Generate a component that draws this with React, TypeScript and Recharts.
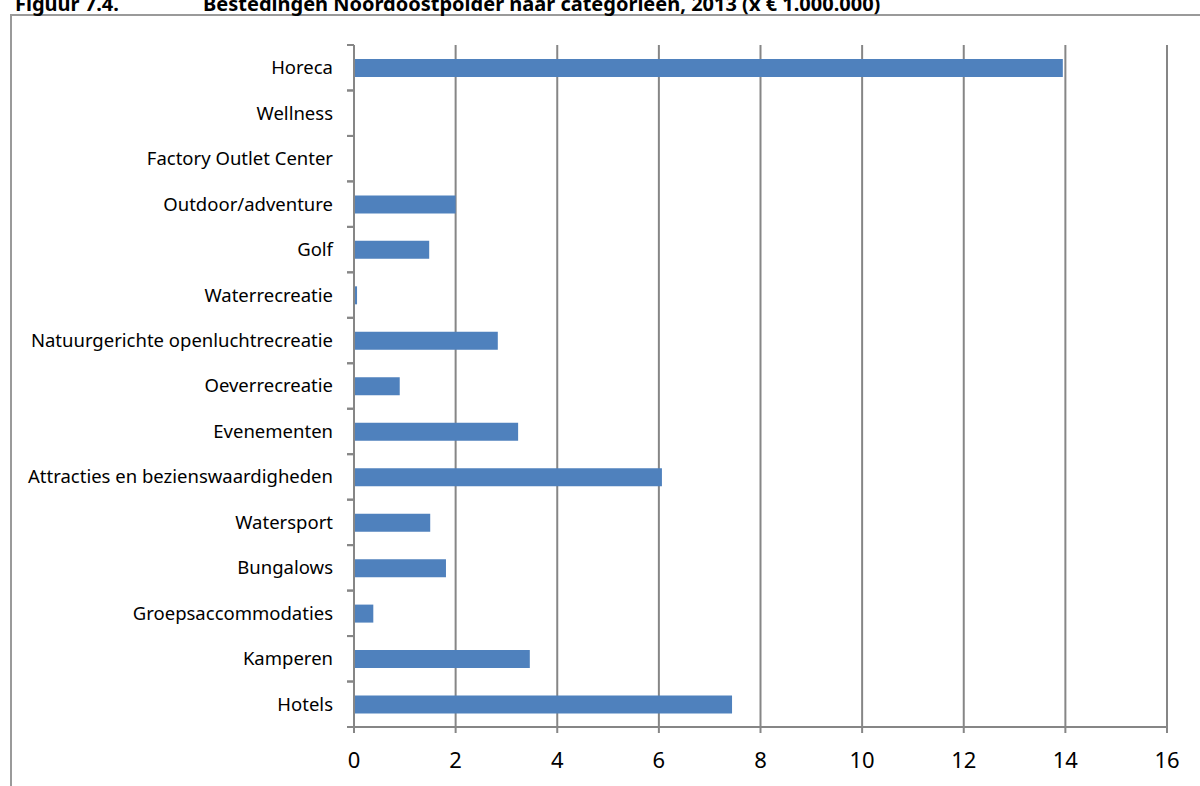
import React from "react";
import { Bar, BarChart, CartesianGrid, XAxis, YAxis } from "recharts";

// Bestedingen Noordoostpolder naar categorieën, 2013 (x € 1.000.000)
const categories = [
  "Horeca",
  "Wellness",
  "Factory Outlet Center",
  "Outdoor/adventure",
  "Golf",
  "Waterrecreatie",
  "Natuurgerichte openluchtrecreatie",
  "Oeverrecreatie ",
  "Evenementen",
  "Attracties en bezienswaardigheden",
  "Watersport",
  "Bungalows",
  "Groepsaccommodaties",
  "Kamperen",
  "Hotels",
];
const spending = [13.95, 0, 0, 2.0, 1.48, 0.06, 2.83, 0.9, 3.23, 6.06, 1.5, 1.81, 0.38, 3.46, 7.44];
const xTicks = [0, 2, 4, 6, 8, 10, 12, 14, 16];

const data = categories.map((name, i) => ({ name, value: spending[i] }));

const W = 1200;
const H = 786;
const PLOT_LEFT = 354;
const PLOT_TOP = 45;
const PLOT_BOTTOM = 727;
const HALF_BAND = (PLOT_BOTTOM - PLOT_TOP) / categories.length / 2;
const GRID = "#868686";
const FONT = "'Noto Sans', sans-serif";

function CategoryTick(props: any) {
  const { y, payload } = props;
  return (
    <g>
      <line x1={PLOT_LEFT - 7} x2={PLOT_LEFT} y1={y - HALF_BAND} y2={y - HALF_BAND} stroke={GRID} strokeWidth={2} />
      <line x1={PLOT_LEFT - 7} x2={PLOT_LEFT} y1={y + HALF_BAND} y2={y + HALF_BAND} stroke={GRID} strokeWidth={2} />
      <text x={PLOT_LEFT - 21} y={y} dy="0.35em" textAnchor="end" fontSize={18.5} fill="#000" fontFamily={FONT}>
        {payload.value}
      </text>
    </g>
  );
}

export default function App() {
  return (
    <div style={{ position: "fixed", left: 0, top: 0, width: W, height: H, background: "#fff", overflow: "hidden" }}>
      <div
        style={{
          position: "absolute",
          left: 10,
          top: 14,
          width: W,
          height: H,
          borderTop: "2px solid #9a9a9a",
          borderLeft: "2px solid #9a9a9a",
        }}
      />
      <svg width={W} height={30} style={{ position: "absolute", left: 0, top: 0 }}>
        <text x={15} y={11} fontSize={20} fontWeight="bold" fontFamily={FONT} fill="#000">
          Figuur 7.4.
        </text>
        <text x={203} y={11} fontSize={20} fontWeight="bold" fontFamily={FONT} fill="#000">
          Bestedingen Noordoostpolder naar categorieën, 2013 (x € 1.000.000)
        </text>
      </svg>
      <div style={{ position: "absolute", left: 0, top: 0 }}>
        <BarChart
          width={W}
          height={H}
          data={data}
          layout="vertical"
          margin={{ top: PLOT_TOP, right: W - 1167, bottom: 0, left: 0 }}
          barSize={18}
        >
          <CartesianGrid horizontal={false} stroke={GRID} strokeWidth={2} strokeDasharray="" />
          <XAxis
            type="number"
            domain={[0, 16]}
            ticks={xTicks}
            interval={0}
            height={H - PLOT_BOTTOM}
            axisLine={{ stroke: GRID, strokeWidth: 2 }}
            tickLine={{ stroke: GRID, strokeWidth: 2 }}
            tickSize={6}
            tickMargin={19}
            tick={{ fontSize: 22, fill: "#000", fontFamily: FONT }}
          />
          <YAxis
            type="category"
            dataKey="name"
            width={PLOT_LEFT}
            interval={0}
            axisLine={{ stroke: GRID, strokeWidth: 2 }}
            tickLine={false}
            tick={<CategoryTick />}
          />
          <Bar dataKey="value" fill="#4f81bd" isAnimationActive={false} />
        </BarChart>
      </div>
    </div>
  );
}
